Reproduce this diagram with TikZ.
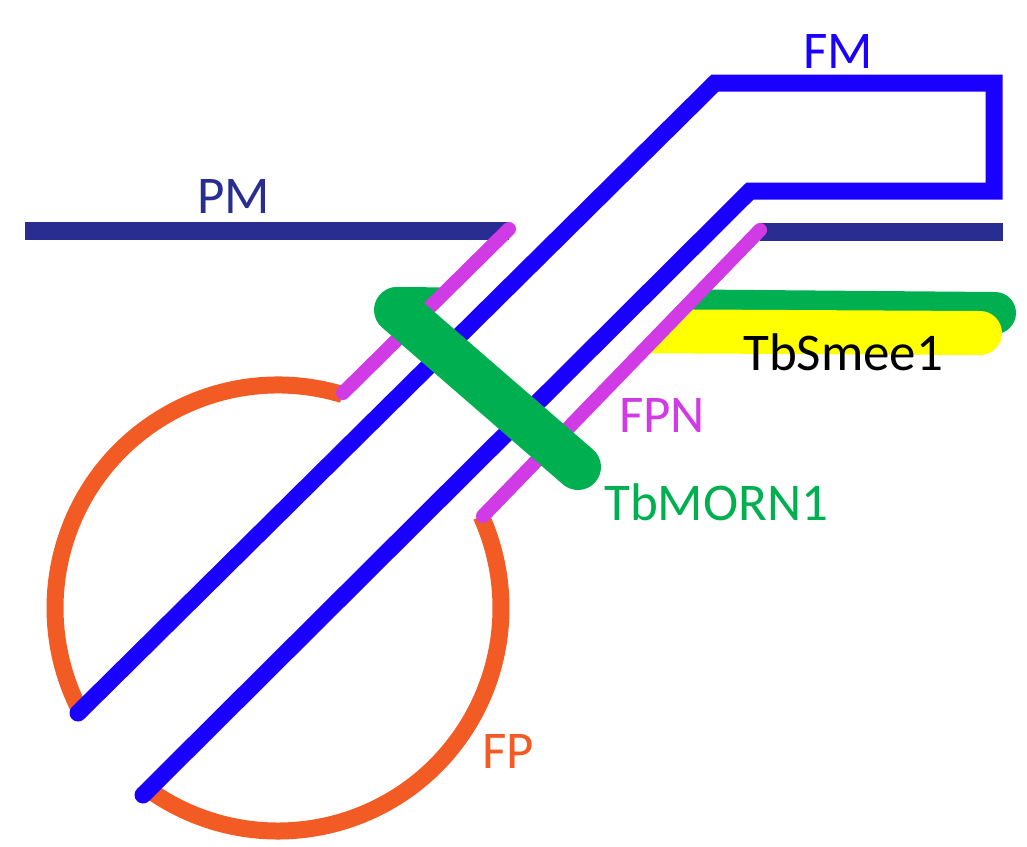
\documentclass[tikz,border=0pt]{standalone}
\usepackage{fontspec}
\setmainfont{Carlito}
\definecolor{pmnavy}{RGB}{41,45,145}
\definecolor{fmblue}{RGB}{26,0,255}
\definecolor{fpnmag}{RGB}{208,59,230}
\definecolor{fporange}{RGB}{243,91,36}
\definecolor{morngreen}{RGB}{0,176,80}
\definecolor{smeeyellow}{RGB}{255,255,0}
\begin{document}
\begin{tikzpicture}[x=1pt,y=1pt,
  lbl/.style={anchor=base west, inner sep=0pt, font=\fontsize{53}{60}\selectfont},
  pmline/.style={draw=pmnavy, line width=18pt},
  fmline/.style={draw=fmblue, line width=17pt, line cap=round, line join=miter},
  fpnline/.style={draw=fpnmag, line width=14pt, line cap=round},
  fpline/.style={draw=fporange, line width=17pt},
  mornbar/.style={draw=morngreen, line width=46pt, line cap=round},
  smeeband/.style={line width=44pt, line cap=round}]
\useasboundingbox (0,0) rectangle (1027,-846);

% key points of the membranes
\coordinate (pmL0) at (25,-231);
\coordinate (pmL1) at (509,-231);
\coordinate (pmR0) at (760,-232);
\coordinate (pmR1) at (1003,-232);
\coordinate (fpnA0) at (509,-229);
\coordinate (fpnA1) at (343,-393);
\coordinate (fpnB0) at (760,-230);
\coordinate (fpnB1) at (483,-516);
\coordinate (pc) at (278,-608);

% pellicular membrane
\draw[pmline] (pmL0) -- (pmL1);
\draw[pmline] (pmR0) -- (pmR1);

% flagellar pocket membrane
\draw[fpline] (pc) ++(73.2:223) arc[start angle=73.2, end angle=207.9, radius=223];
\draw[fpline] (pc) ++(234.9:223) arc[start angle=234.9, end angle=384.3, radius=223];

% TbSmee1 layer under the collar
\draw[smeeband, draw=morngreen, line width=42pt] (397,-308) -- (995,-313);
\draw[smeeband, draw=smeeyellow] (600,-331) -- (980,-333);

% the neck region stays clear between the two FPN strands
\fill[white] (457.4,-280) -- (711.6,-280) -- (632.2,-362) -- (374.4,-362) -- cycle;

% flagellar membrane
\draw[fmline] (78,-713) -- (715,-83) -- (994,-83) -- (994,-191) -- (750,-191) -- (143,-795);

% flagellar pocket neck
\draw[fpnline] (fpnA0) -- (fpnA1);
\draw[fpnline] (fpnB0) -- (fpnB1);

% TbMORN1 bar across the neck
\draw[mornbar] (397,-310) -- (578,-467);

% labels
\node[lbl, text=pmnavy] (pm) at (197,-213) {PM};
\node[lbl, text=fmblue] (fm) at (803,-68) {FM};
\node[lbl, text=black] (smee) at (743,-370) {TbSmee1};
\node[lbl, text=fpnmag] (fpn) at (619,-432) {FPN};
\node[lbl, text=morngreen] (morn) at (604,-520) {TbMORN1};
\node[lbl, text=fporange] (fp) at (482,-768) {FP};
\end{tikzpicture}
\end{document}
